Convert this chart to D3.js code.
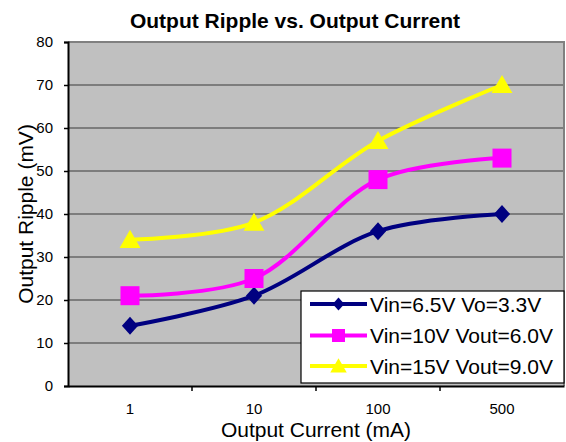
<!DOCTYPE html>
<html>
<head>
<meta charset="utf-8">
<script src="https://d3js.org/d3.v7.min.js"></script>
<style>
  body { margin: 0; background: #fff; }
  text { font-family: "Liberation Sans", Arial, sans-serif; fill: #000; }
</style>
</head>
<body>
<div id="my_dataviz"></div>
<script>

// data
var currents = ["1", "10", "100", "500"];
var seriesNames = ["Vin=6.5V Vo=3.3V", "Vin=10V Vout=6.0V", "Vin=15V Vout=9.0V"];
var ripple33 = [14, 21, 36, 40];
var ripple60 = [21, 25, 48, 53];
var ripple90 = [34, 38, 57, 70];
var yTicks = [0, 10, 20, 30, 40, 50, 60, 70, 80];

var colors = ["#000080", "#FF00FF", "#FFFF00"];
var shapes = ["diamond", "square", "triangle"];
var series = [ripple33, ripple60, ripple90];

var W = 566, H = 442;
var plot = {left: 68, right: 564, top: 42, bottom: 386};

var svg = d3.select("#my_dataviz")
  .append("svg")
    .attr("width", W)
    .attr("height", H);

var x = d3.scaleBand()
  .domain(currents)
  .range([plot.left, plot.right]);

var y = d3.scaleLinear()
  .domain([0, 80])
  .range([plot.bottom, plot.top]);

// plot background
svg.append("rect")
  .attr("x", plot.left)
  .attr("y", plot.top)
  .attr("width", plot.right - plot.left)
  .attr("height", plot.bottom - plot.top)
  .style("fill", "#C0C0C0");

// gridlines
svg.append("g")
  .selectAll("line")
  .data(yTicks.filter(function(d){ return d > 0 && d < 80; }))
  .enter()
  .append("line")
    .attr("x1", plot.left)
    .attr("x2", plot.right)
    .attr("y1", function(d){ return y(d); })
    .attr("y2", function(d){ return y(d); })
    .style("stroke", "#3a3a3a")
    .style("stroke-width", 1.2);

// top and right border
svg.append("path")
  .attr("d", "M" + plot.left + "," + plot.top + "H" + plot.right + "V" + plot.bottom)
  .style("fill", "none")
  .style("stroke", "#808080")
  .style("stroke-width", 2);

// Y axis
var yAxis = svg.append("g")
  .attr("transform", "translate(" + plot.left + ",0)")
  .call(d3.axisLeft(y).tickValues(yTicks).tickSize(4).tickPadding(11));
yAxis.select(".domain").style("stroke", "#000").style("stroke-width", 2);
yAxis.selectAll(".tick line").style("stroke", "#000").style("stroke-width", 1.5);
yAxis.selectAll(".tick text")
  .style("font-family", "'Liberation Sans', Arial, sans-serif")
  .style("font-size", "15px");

// X axis (labels centered in bands, ticks at band edges)
var xAxis = svg.append("g")
  .attr("transform", "translate(0," + plot.bottom + ")")
  .call(d3.axisBottom(x).tickSize(0).tickPadding(17).tickSizeOuter(0));
xAxis.select(".domain").style("stroke", "#000").style("stroke-width", 2);
xAxis.selectAll(".tick text")
  .style("font-family", "'Liberation Sans', Arial, sans-serif")
  .style("font-size", "15px");

var edges = currents.map(function(d){ return x(d); }).concat([plot.right]);
svg.append("g")
  .selectAll("line")
  .data(edges.slice(1, -1))
  .enter()
  .append("line")
    .attr("x1", function(d){ return d; })
    .attr("x2", function(d){ return d; })
    .attr("y1", plot.bottom)
    .attr("y2", plot.bottom + 5)
    .style("stroke", "#000")
    .style("stroke-width", 1.5);

// title and axis titles
svg.append("text")
  .attr("x", 295)
  .attr("y", 28)
  .attr("text-anchor", "middle")
  .style("font-size", "21px")
  .style("font-weight", "bold")
  .text("Output Ripple vs. Output Current");

svg.append("text")
  .attr("x", 316)
  .attr("y", 437)
  .attr("text-anchor", "middle")
  .style("font-size", "21px")
  .text("Output Current (mA)");

svg.append("text")
  .attr("transform", "translate(33,214) rotate(-90)")
  .attr("text-anchor", "middle")
  .style("font-size", "21px")
  .text("Output Ripple (mV)");

// marker path builder
function marker(shape, s) {
  if (shape === "diamond") return "M0," + (-s) + "L" + (s * 0.9) + ",0L0," + s + "L" + (-s * 0.9) + ",0Z";
  if (shape === "square") return "M" + (-s) + "," + (-s) + "H" + s + "V" + s + "H" + (-s) + "Z";
  return "M0," + (-s * 1.05) + "L" + (s * 1.1) + "," + (s * 0.85) + "H" + (-s * 1.1) + "Z";
}
var markerSize = [9, 9.5, 9.5];

var line = d3.line()
  .x(function(d, i){ return x(currents[i]) + x.bandwidth() / 2; })
  .y(function(d){ return y(d); })
  .curve(d3.curveCatmullRom);

series.forEach(function(vals, k) {
  svg.append("path")
    .datum(vals)
    .attr("d", line)
    .style("fill", "none")
    .style("stroke", colors[k])
    .style("stroke-width", 4);

  svg.append("g")
    .selectAll("path")
    .data(vals)
    .enter()
    .append("path")
      .attr("transform", function(d, i){ return "translate(" + (x(currents[i]) + x.bandwidth() / 2) + "," + y(d) + ")"; })
      .attr("d", marker(shapes[k], markerSize[k]))
      .style("fill", colors[k]);
});

// legend
var legend = svg.append("g");
legend.append("rect")
  .attr("x", 301)
  .attr("y", 291)
  .attr("width", 263)
  .attr("height", 92)
  .style("fill", "#fff")
  .style("stroke", "#000")
  .style("stroke-width", 1.2);

var rowY = [304, 335.5, 366];
seriesNames.forEach(function(name, k) {
  legend.append("line")
    .attr("x1", 310)
    .attr("x2", 367)
    .attr("y1", rowY[k])
    .attr("y2", rowY[k])
    .style("stroke", colors[k])
    .style("stroke-width", 4);
  legend.append("path")
    .attr("transform", "translate(338.5," + rowY[k] + ")")
    .attr("d", marker(shapes[k], [6.5, 6.5, 7.5][k]))
    .style("fill", colors[k]);
  legend.append("text")
    .attr("x", 370)
    .attr("y", rowY[k] + 7.5)
    .style("font-size", "21px")
    .text(name);
});

</script>
</body>
</html>
